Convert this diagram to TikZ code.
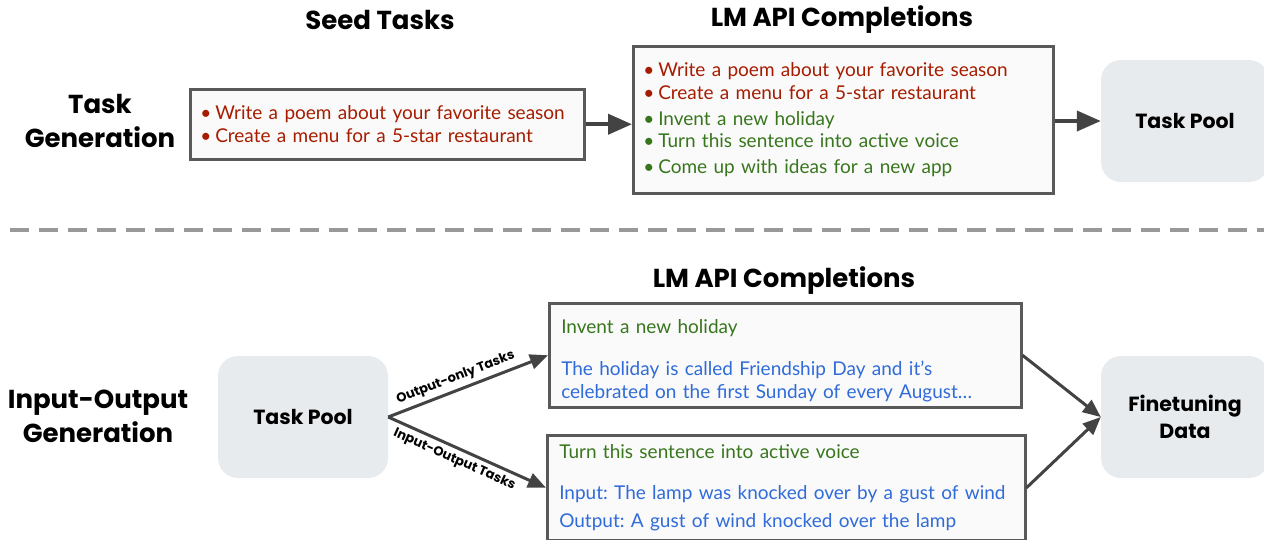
\documentclass[tikz,border=0pt]{standalone}
\usepackage{fontspec}
\setmainfont{Lato}
\newfontfamily\headfont{Poppins}
\usetikzlibrary{positioning,arrows.meta}
\frenchspacing

\definecolor{seedred}{HTML}{A61C00}
\definecolor{gengreen}{HTML}{38761D}
\definecolor{outblue}{HTML}{2F6BD9}
\definecolor{boxline}{HTML}{595959}
\definecolor{boxfill}{HTML}{FAFAFA}
\definecolor{poolfill}{HTML}{E8EBED}
\definecolor{arrowgray}{HTML}{434343}
\definecolor{dashgray}{HTML}{999999}

\newcommand{\itembullet}{\textbullet\hspace{4pt}}

\tikzset{
  header/.style={font=\headfont\bfseries\fontsize{26}{34}\selectfont, align=center},
  listbox/.style={draw=boxline, line width=2.5pt, fill=boxfill, align=left,
    inner xsep=10pt, inner ysep=0pt, font=\fontsize{19}{22.5}\selectfont},
  poolbox/.style={fill=poolfill, rounded corners=20pt, minimum width=168pt,
    minimum height=122pt, align=center,
    font=\headfont\bfseries\fontsize{20.5}{27}\selectfont},
  flow/.style={draw=arrowgray, line width=4pt, -{Triangle[length=24pt,width=20pt]}},
  branch/.style={draw=arrowgray, line width=3pt, -{Triangle[length=18pt,width=15pt]}},
  tasklabel/.style={font=\headfont\bfseries\fontsize{13}{15}\selectfont, sloped, inner sep=4pt},
}

\begin{document}
\begin{tikzpicture}[x=1pt,y=-1pt]
  \useasboundingbox (0,0) rectangle (1264,539);

  % task generation
  \node[header] (titletop) at (100,121) {Task\\Generation};
  \node[header] at (380,20) {Seed Tasks};
  \node[header] at (842,20) {LM API Completions};

  \node[listbox, anchor=north west, minimum height=70pt, text width=374pt] (seed) at (189,88)
    {\color{seedred}\itembullet Write a poem about your favorite season\\
     \color{seedred}\itembullet Create a menu for a 5-star restaurant};

  \node[listbox, anchor=north west, minimum height=147pt, text width=400pt] (lmtop) at (632,45)
    {\color{seedred}\itembullet Write a poem about your favorite season\\
     \color{seedred}\itembullet Create a menu for a 5-star restaurant\\[3.5pt]
     \color{gengreen}\itembullet Invent a new holiday\\
     \color{gengreen}\itembullet Turn this sentence into active voice\\[3.5pt]
     \color{gengreen}\itembullet Come up with ideas for a new app};

  \node[poolbox] (pooltop) at (1185,121) {Task Pool};

  \draw[flow] (seed.east) -- (seed.east -| lmtop.west);
  \draw[flow] (pooltop.west -| lmtop.east) -- (pooltop.west);

  % separator
  \coordinate (sepl) at (10,230);
  \coordinate (sepr) at (1264,230);
  \draw[dashgray, line width=3.5pt, dash pattern=on 19pt off 10pt] (sepl) -- (sepr);

  % input-output generation
  \node[header] (titlebot) at (98,416) {Input-Output\\Generation};
  \node[header] at (784,281) {LM API Completions};

  \node[poolbox, minimum width=170pt] (poolbot) at (303,417) {Task Pool};

  \node[listbox, anchor=north west, minimum width=472pt, minimum height=104pt, text width=448pt, inner xsep=12pt] (outonly) at (548,302)
    {\rule{0pt}{24pt}\color{gengreen}Invent a new holiday\\[20pt]
     \color{outblue}The holiday is called Friendship Day and it’s\\
     \color{outblue}celebrated on the first Sunday of every August…};

  \node[listbox, anchor=north west, minimum width=478pt, minimum height=105pt, text width=454pt, inner xsep=12pt] (inout) at (546,434)
    {\color{gengreen}Turn this sentence into active voice\\[18.5pt]
     \color{outblue}Input: The lamp was knocked over by a gust of wind\\[5.5pt]
     \color{outblue}Output: A gust of wind knocked over the lamp};

  \node[poolbox] (finetune) at (1185,417) {Finetuning\\Data};

  \draw[branch] (poolbot.east) -- node[tasklabel, above, pos=0.45] {Output-only Tasks} (outonly.west);
  \draw[branch] (poolbot.east) -- node[tasklabel, below, pos=0.45] {Input-Output Tasks} (inout.west);
  \draw[branch] (outonly.east) -- (finetune.west);
  \draw[branch] (inout.east) -- (finetune.west);
\end{tikzpicture}
\end{document}
